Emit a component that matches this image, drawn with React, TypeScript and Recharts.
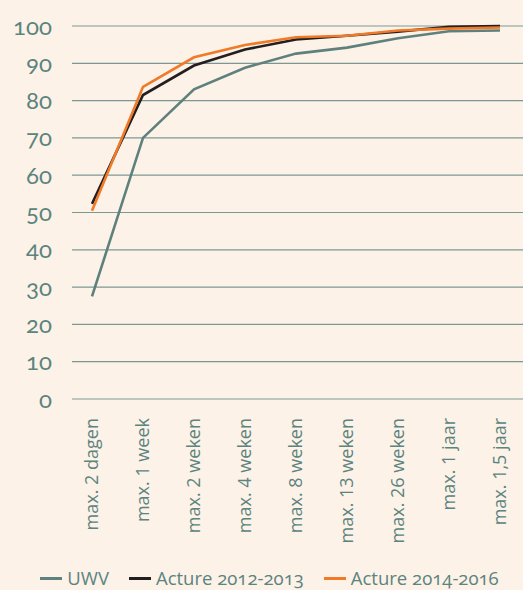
import { LineChart, Line, XAxis, YAxis, CartesianGrid, Legend } from "recharts";

const categories = [
  "max. 2 dagen",
  "max. 1 week",
  "max. 2 weken",
  "max. 4 weken",
  "max. 8 weken",
  "max. 13 weken",
  "max. 26 weken",
  "max. 1 jaar",
  "max. 1,5 jaar",
];
const uwv = [27.5, 70, 83, 88.8, 92.6, 94.2, 96.7, 98.6, 98.8];
const acture2012 = [52.3, 81.5, 89.4, 93.7, 96.4, 97.4, 98.5, 99.8, 100];
const acture2014 = [50.5, 83.7, 91.6, 94.9, 97, 97.4, 98.8, 99.3, 99.6];
const yTicks = [0, 10, 20, 30, 40, 50, 60, 70, 80, 90, 100];

const series = [
  { key: "uwv", name: "UWV", color: "#5f817d" },
  { key: "a2012", name: "Acture 2012-2013", color: "#231f20" },
  { key: "a2014", name: "Acture 2014-2016", color: "#f07a28" },
];

const data = categories.map((name, i) => ({
  name,
  uwv: uwv[i],
  a2012: acture2012[i],
  a2014: acture2014[i],
}));

const textColor = "#5b847f";
const font = "Lato, 'Open Sans', sans-serif";
const xFont = "'Open Sans', sans-serif";

const XTick = (props: any) => {
  const { x, y, payload } = props;
  return (
    <text
      transform={`translate(${x}, ${y + 11}) rotate(-90)`}
      textAnchor="end"
      dy="0.36em"
      fill={textColor}
      fontSize={18}
      fontFamily={xFont}
    >
      {payload.value}
    </text>
  );
};

const LegendContent = () => (
  <div
    style={{
      display: "flex",
      justifyContent: "center",
      gap: 20,
      fontFamily: xFont,
      fontSize: 18.5,
      lineHeight: "22px",
      color: textColor,
      paddingLeft: 16,
      fontVariantNumeric: "oldstyle-nums",
    }}
  >
    {series.map((s) => (
      <span key={s.key} style={{ display: "flex", alignItems: "center" }}>
        <span
          style={{
            display: "inline-block",
            width: 22,
            height: 3,
            background: s.color,
            marginRight: 5,
          }}
        />
        {s.name}
      </span>
    ))}
  </div>
);

const App = () => {
  return (
    <div
      style={{
        position: "absolute",
        left: 0,
        top: 0,
        width: 523,
        height: 590,
        background: "#fdf2e8",
      }}
    >
      <LineChart
        width={523}
        height={590}
        data={data}
        margin={{ top: 26, right: 0, left: 0, bottom: 0 }}
      >
        <CartesianGrid vertical={false} stroke="#7d9893" strokeWidth={1.2} />
        <XAxis
          dataKey="name"
          axisLine={false}
          tickLine={false}
          interval={0}
          height={169}
          padding={{ left: 20, right: 23 }}
          tick={<XTick />}
        />
        <YAxis
          domain={[0, 100]}
          ticks={yTicks}
          width={72}
          axisLine={false}
          tickLine={false}
          tickSize={6}
          tickMargin={14}
          tick={{
            fill: textColor,
            fontSize: 24,
            fontFamily: font,
            style: { fontVariantNumeric: "oldstyle-nums" },
          }}
        />
        <Legend
          verticalAlign="bottom"
          height={22}
          wrapperStyle={{ bottom: 1 }}
          content={<LegendContent />}
        />
        {series.map((s) => (
          <Line
            key={s.key}
            dataKey={s.key}
            name={s.name}
            stroke={s.color}
            strokeWidth={2.6}
            dot={false}
            type="linear"
            isAnimationActive={false}
          />
        ))}
      </LineChart>
    </div>
  );
};

export default App;
